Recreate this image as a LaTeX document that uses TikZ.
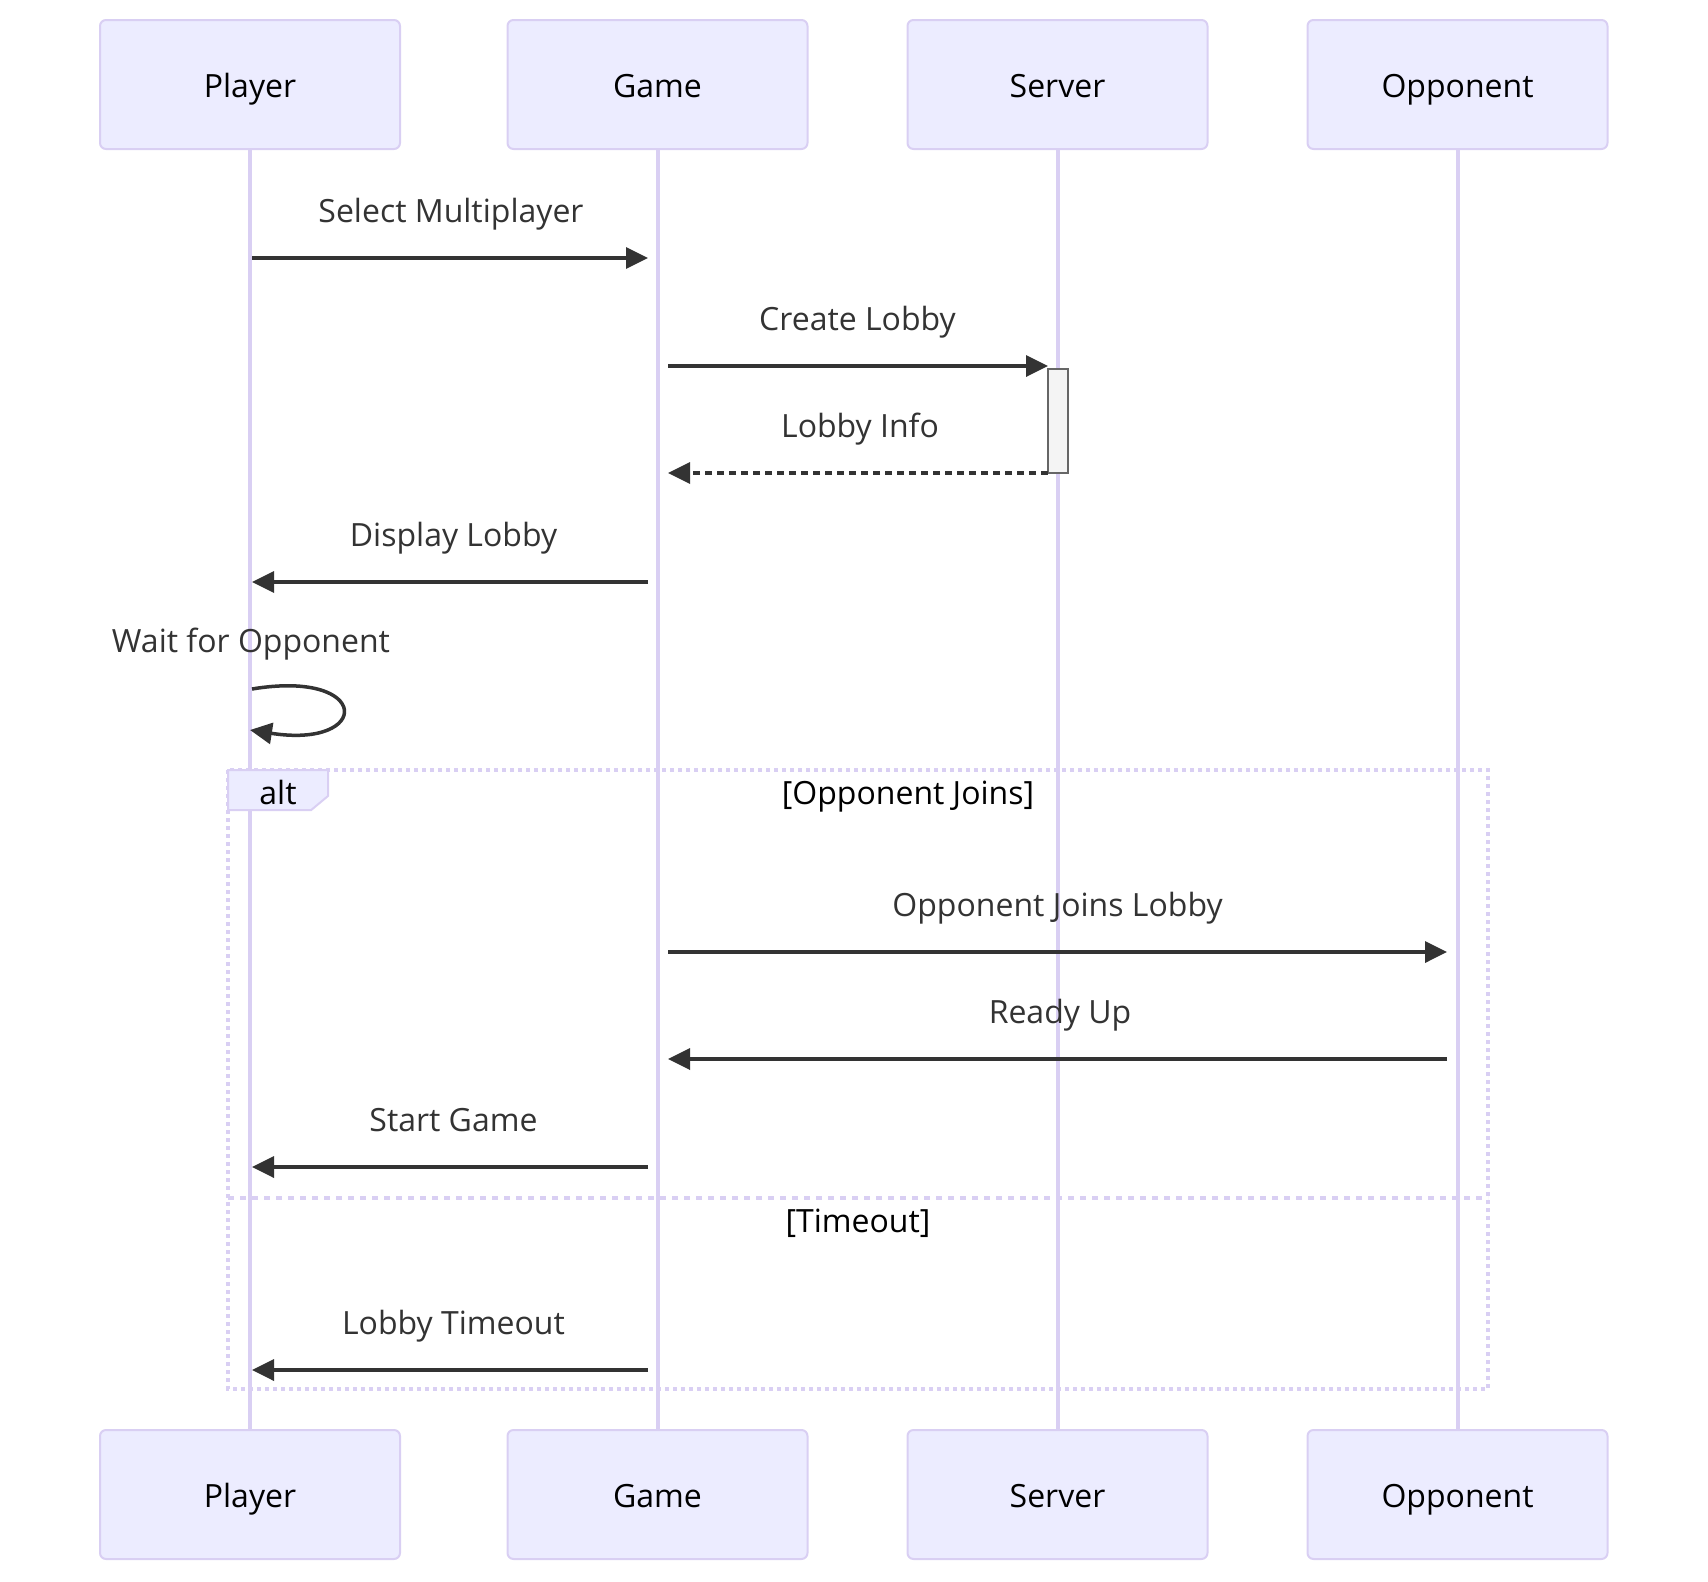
\documentclass[tikz,border=0pt]{standalone}
\usepackage{fontspec}
\setmainfont{Open Sans}
\usetikzlibrary{arrows.meta}

\definecolor{actorfill}{HTML}{ECECFF}
\definecolor{actorline}{HTML}{D9CFF3}
\definecolor{msgcol}{HTML}{333333}
\definecolor{actfill}{HTML}{F4F4F4}
\definecolor{actstroke}{HTML}{666666}

\tikzset{
  actor/.style={draw=actorline, line width=2pt, fill=actorfill,
    rounded corners=6pt, minimum width=300pt, minimum height=129pt,
    inner sep=0pt, text height=26pt, text depth=0pt,
    font=\fontsize{32}{38}\selectfont, text=black},
  lifeline/.style={draw=actorline, line width=4pt},
  msg/.style={draw=msgcol, line width=3.5pt,
    -{Triangle[length=22pt,width=21pt]}},
  reply/.style={msg, dash pattern=on 7pt off 5pt},
  msgtext/.style={font=\fontsize{32}{38}\selectfont, text=msgcol,
    anchor=base, inner sep=0pt},
  framelabel/.style={font=\fontsize{32}{38}\selectfont, text=black,
    anchor=base, inner sep=0pt},
  frameline/.style={draw=actorline, line width=3.5pt,
    dash pattern=on 4pt off 4pt},
  divider/.style={draw=actorline, line width=3.5pt,
    dash pattern=on 6pt off 6pt},
  activation/.style={draw=actstroke, line width=2pt, fill=actfill},
}

\begin{document}
\begin{tikzpicture}[x=1pt, y=-1pt]
  \useasboundingbox (0,0) rectangle (1708,1582);

  % participants, top row
  \node[actor] (pTop) at (250,84.5)    {Player};
  \node[actor] (gTop) at (657.5,84.5)  {Game};
  \node[actor] (sTop) at (1057.5,84.5) {Server};
  \node[actor] (oTop) at (1457.5,84.5) {Opponent};

  % participants, bottom row
  \node[actor] (pBot) at (250,1494.5)    {Player};
  \node[actor] (gBot) at (657.5,1494.5)  {Game};
  \node[actor] (sBot) at (1057.5,1494.5) {Server};
  \node[actor] (oBot) at (1457.5,1494.5) {Opponent};

  % lifelines
  \draw[lifeline] (pTop.south) -- (pBot.north);
  \draw[lifeline] (gTop.south) -- (gBot.north);
  \draw[lifeline] (sTop.south) -- (sBot.north);
  \draw[lifeline] (oTop.south) -- (oBot.north);

  % alt frame
  \draw[frameline] (228,770) rectangle (1488,1389);
  \draw[draw=actorline, line width=2pt, fill=actorfill]
    (228,770) -- (328,770) -- (328,796) -- (311.2,810) -- (228,810) -- cycle;
  \node[framelabel] (altLbl) at (278,804) {alt};
  \node[framelabel] (altCond1) at (908,804) {[Opponent Joins]};
  \draw[divider] (228,1198) -- (1488,1198);
  \node[framelabel] (altCond2) at (858,1232) {[Timeout]};

  % activation bar on the server
  \node[activation, minimum width=20pt, minimum height=104pt, inner sep=0pt]
    (sAct) at (1058,421) {};

  % message end points
  \coordinate (m1a) at (252,258);   \coordinate (m1b) at (648,258);
  \coordinate (m2a) at (668,366);   \coordinate (m2b) at (1048,366);
  \coordinate (m3a) at (1048,473);  \coordinate (m3b) at (668,473);
  \coordinate (m4a) at (648,582);   \coordinate (m4b) at (252,582);
  \coordinate (l1a) at (252,689);   \coordinate (l1b) at (250,730);
  \coordinate (m5a) at (668,952);   \coordinate (m5b) at (1447,952);
  \coordinate (m6a) at (1447,1059); \coordinate (m6b) at (668,1059);
  \coordinate (m7a) at (648,1167);  \coordinate (m7b) at (252,1167);
  \coordinate (m8a) at (648,1370);  \coordinate (m8b) at (252,1370);

  % messages
  \draw[msg] (m1a) -- (m1b);
  \node[msgtext] (t1) at (451,222) {Select Multiplayer};

  \draw[msg] (m2a) -- (m2b);
  \node[msgtext] (t2) at (857.5,330) {Create Lobby};

  \draw[reply] (m3a) -- (m3b);
  \node[msgtext] (t3) at (860,437) {Lobby Info};

  \draw[msg] (m4a) -- (m4b);
  \node[msgtext] (t4) at (453.5,546) {Display Lobby};

  \draw[msg] (l1a) .. controls (372,669) and (372,749) .. (l1b);
  \node[msgtext] (t5) at (251,652) {Wait for Opponent};

  \draw[msg] (m5a) -- (m5b);
  \node[msgtext] (t6) at (1057.5,916) {Opponent Joins Lobby};

  \draw[msg] (m6a) -- (m6b);
  \node[msgtext] (t7) at (1060,1023) {Ready Up};

  \draw[msg] (m7a) -- (m7b);
  \node[msgtext] (t8) at (453.5,1131) {Start Game};

  \draw[msg] (m8a) -- (m8b);
  \node[msgtext] (t9) at (453.5,1334) {Lobby Timeout};
\end{tikzpicture}
\end{document}
